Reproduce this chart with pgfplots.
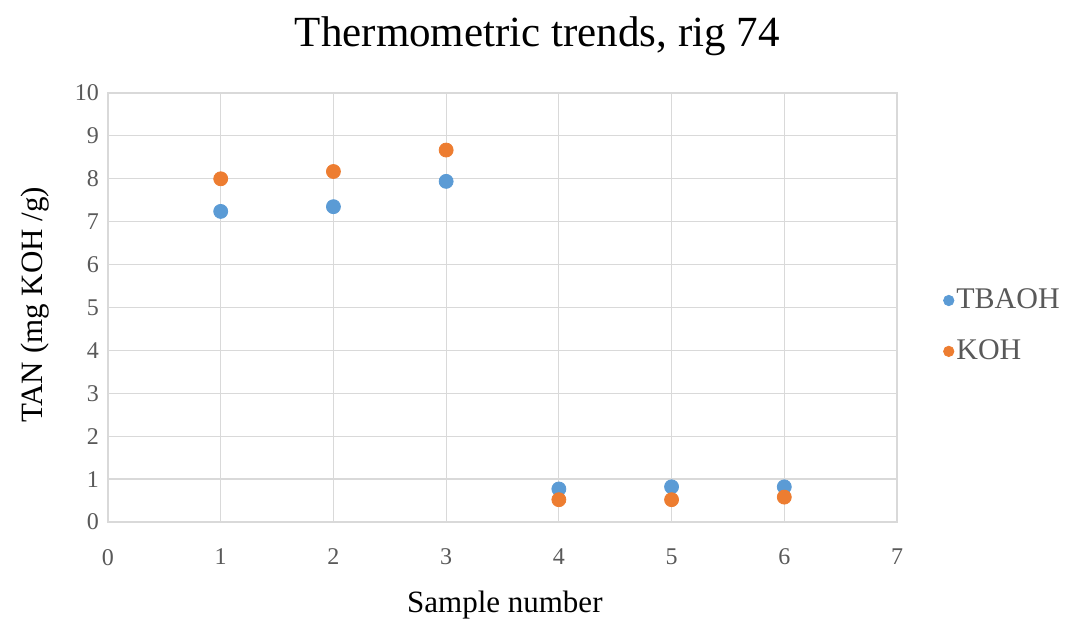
\documentclass[border=0pt]{standalone}
\usepackage{pgfplots}
\pgfplotsset{compat=1.18}
\usetikzlibrary{calc}
\usepackage{fontspec}
\setmainfont{Liberation Serif}
\definecolor{cblue}{HTML}{5B9BD5}
\definecolor{corange}{HTML}{ED7D31}
\definecolor{cgrid}{HTML}{D9D9D9}
\definecolor{ctick}{HTML}{595959}
\begin{document}
\begin{tikzpicture}
\path[use as bounding box] (-54pt,-52pt) rectangle (481pt,261pt);
\begin{axis}[
  scale only axis,
  width=394.5pt, height=214.5pt,
  xmin=0, xmax=7, ymin=0, ymax=10,
  xtick={0,1,...,7}, ytick={0,1,...,10},
  grid=major,
  major grid style={cgrid, line width=0.6pt},
  axis line style={cgrid, line width=0.6pt},
  tick style={draw=none},
  /pgf/number format/assume math mode=true,
  ticklabel style={font=\fontsize{12}{14}\selectfont, text=ctick},
  xticklabel style={yshift=-10pt},
  yticklabel style={xshift=-1pt},
  title={Thermometric trends, rig 74},
  title style={font=\fontsize{21.5}{24}\selectfont, at={(0.544,1)}, anchor=center, yshift=22.5pt},
  xlabel={Sample number},
  xlabel style={font=\fontsize{15.5}{18}\selectfont, at={(0.503,0)}, anchor=center, yshift=-41.5pt},
  ylabel={TAN (mg KOH /g)},
  ylabel style={font=\fontsize{15.5}{18}\selectfont, at={($(axis description cs:0,0.506)+(-36.5pt,0)$)}, anchor=center},
  legend style={at={(1.058,0.457)}, anchor=west, draw=none, fill=none,
    font=\fontsize{15}{17}\selectfont, row sep=10pt, inner sep=0pt,
    nodes={inner xsep=1pt, text=ctick}},
  legend cell align=left,
  legend image code/.code={\fill[#1] (0.1cm,0cm) circle (2.6pt);},
  clip=false,
]
\addplot[only marks, mark=*, mark size=3.5pt, color=cblue, mark options={draw=cblue, fill=cblue}]
  coordinates {(1,7.24) (2,7.35) (3,7.94) (4,0.77) (5,0.82) (6,0.82)};
\addlegendentry{TBAOH}
\addplot[only marks, mark=*, mark size=3.5pt, color=corange, mark options={draw=corange, fill=corange}]
  coordinates {(1,8.0) (2,8.17) (3,8.67) (4,0.52) (5,0.52) (6,0.58)};
\addlegendentry{KOH}
\end{axis}
\end{tikzpicture}
\end{document}
